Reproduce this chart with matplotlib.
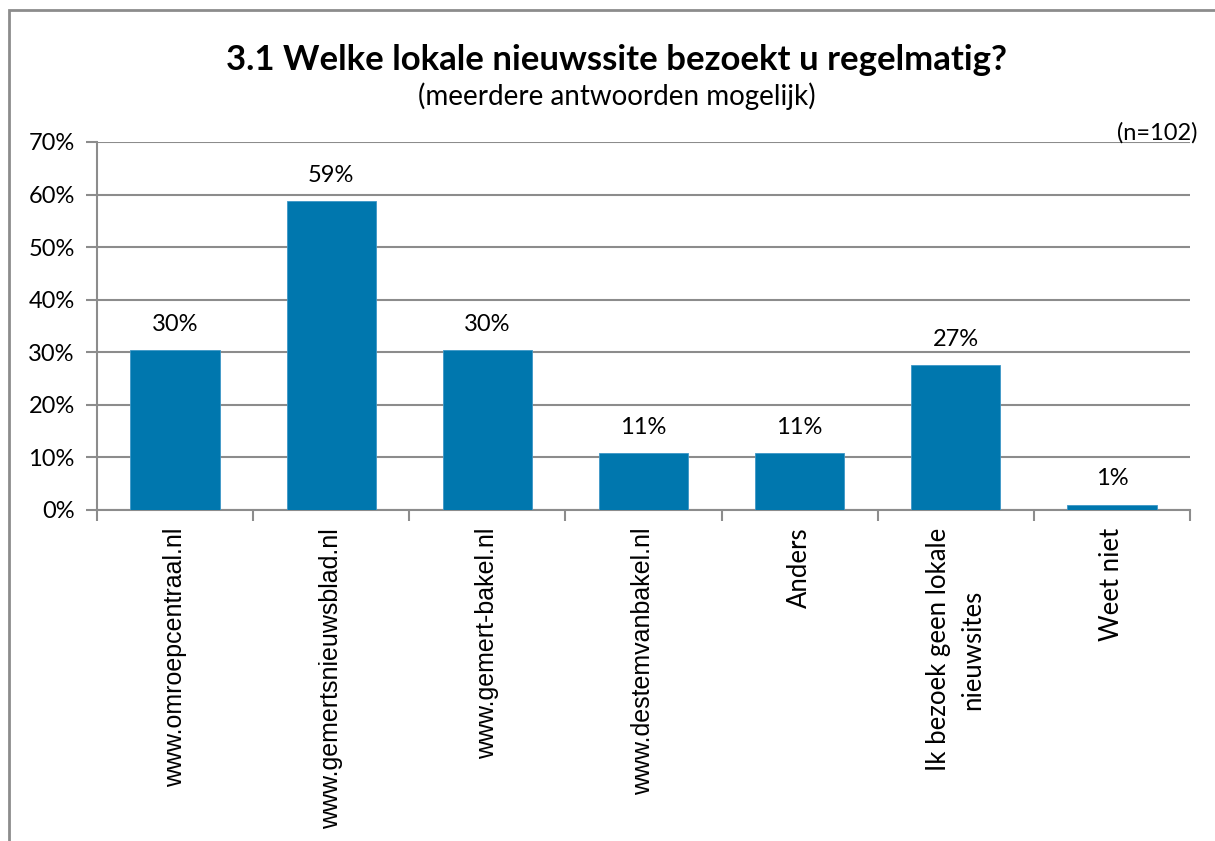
from matplotlib import pyplot as plt
from matplotlib.patches import Rectangle
import numpy as np

# survey answers (n=102), shares in percent
categories = ['www.omroepcentraal.nl', 'www.gemertsnieuwsblad.nl',
              'www.gemert-bakel.nl', 'www.destemvanbakel.nl', 'Anders',
              'Ik bezoek geen lokale\nnieuwsites', 'Weet niet']
values = [30.4, 58.8, 30.4, 10.8, 10.8, 27.5, 1.0]
value_labels = ['30%', '59%', '30%', '11%', '11%', '27%', '1%']
y_ticks = [0, 10, 20, 30, 40, 50, 60, 70]

bar_color = '#0077ae'
grid_color = '#8c8c8c'

fig = plt.figure(figsize=(12.15, 8.41), dpi=100)
ax = fig.add_axes([97 / 1215, 1 - 510 / 841, 1093 / 1215, 368 / 841])

# outer chart border (only top and left are inside the picture)
fig.patches.append(Rectangle((9 / 1215, -0.1), 1.2, 1 - 10 / 841 + 0.1,
                             transform=fig.transFigure, fill=False,
                             edgecolor='#8c8c8c', lw=2))

x = np.arange(len(categories))
ax.bar(x, values, width=0.571, color=bar_color, edgecolor='#3d97c7',
       linewidth=0.6, zorder=3)
for xi, v, lab in zip(x, values, value_labels):
    ax.annotate(lab, (xi, v), xytext=(0, 11), textcoords='offset points',
                ha='center', va='bottom', fontsize=17, family='Lato')

ax.set_xlim(-0.5, len(categories) - 0.5)
ax.set_ylim(0, 70)
ax.set_yticks(y_ticks)
ax.set_yticklabels(['%d%%' % t for t in y_ticks], fontsize=17, family='Lato')
ax.yaxis.grid(True, color=grid_color, lw=1.5, zorder=0)

# category boundaries as tick marks, names centred under the bars
ax.set_xticks(np.arange(len(categories) + 1) - 0.5)
ax.set_xticklabels([])
ax.tick_params(axis='x', direction='out', length=8, width=1.5,
               color=grid_color)
ax.tick_params(axis='y', direction='out', length=8, width=1.5,
               color=grid_color, pad=8)
for xi, name in zip(x, categories):
    if name.startswith('www'):
        fam, size = 'Liberation Sans', 18
    else:
        fam, size = 'Lato', 18.5
    ax.text(xi, -3.4, name, rotation=90, ha='center', va='top',
            fontsize=size, family=fam, multialignment='center',
            linespacing=1.45)

for side in ['top', 'right']:
    ax.spines[side].set_visible(False)
for side in ['left', 'bottom']:
    ax.spines[side].set_color(grid_color)
    ax.spines[side].set_linewidth(1.5)

fig.text(616 / 1215, 1 - 60 / 841,
         '3.1 Welke lokale nieuwssite bezoekt u regelmatig?',
         ha='center', va='center', fontsize=25, fontweight='bold',
         family='Lato')
fig.text(617 / 1215, 1 - 96 / 841, '(meerdere antwoorden mogelijk)',
         ha='center', va='center', fontsize=20, family='Lato')
fig.text(1198 / 1215, 1 - 133 / 841, '(n=102)', ha='right', va='center',
         fontsize=17, family='Lato')

plt.savefig('out.png', dpi=100)
